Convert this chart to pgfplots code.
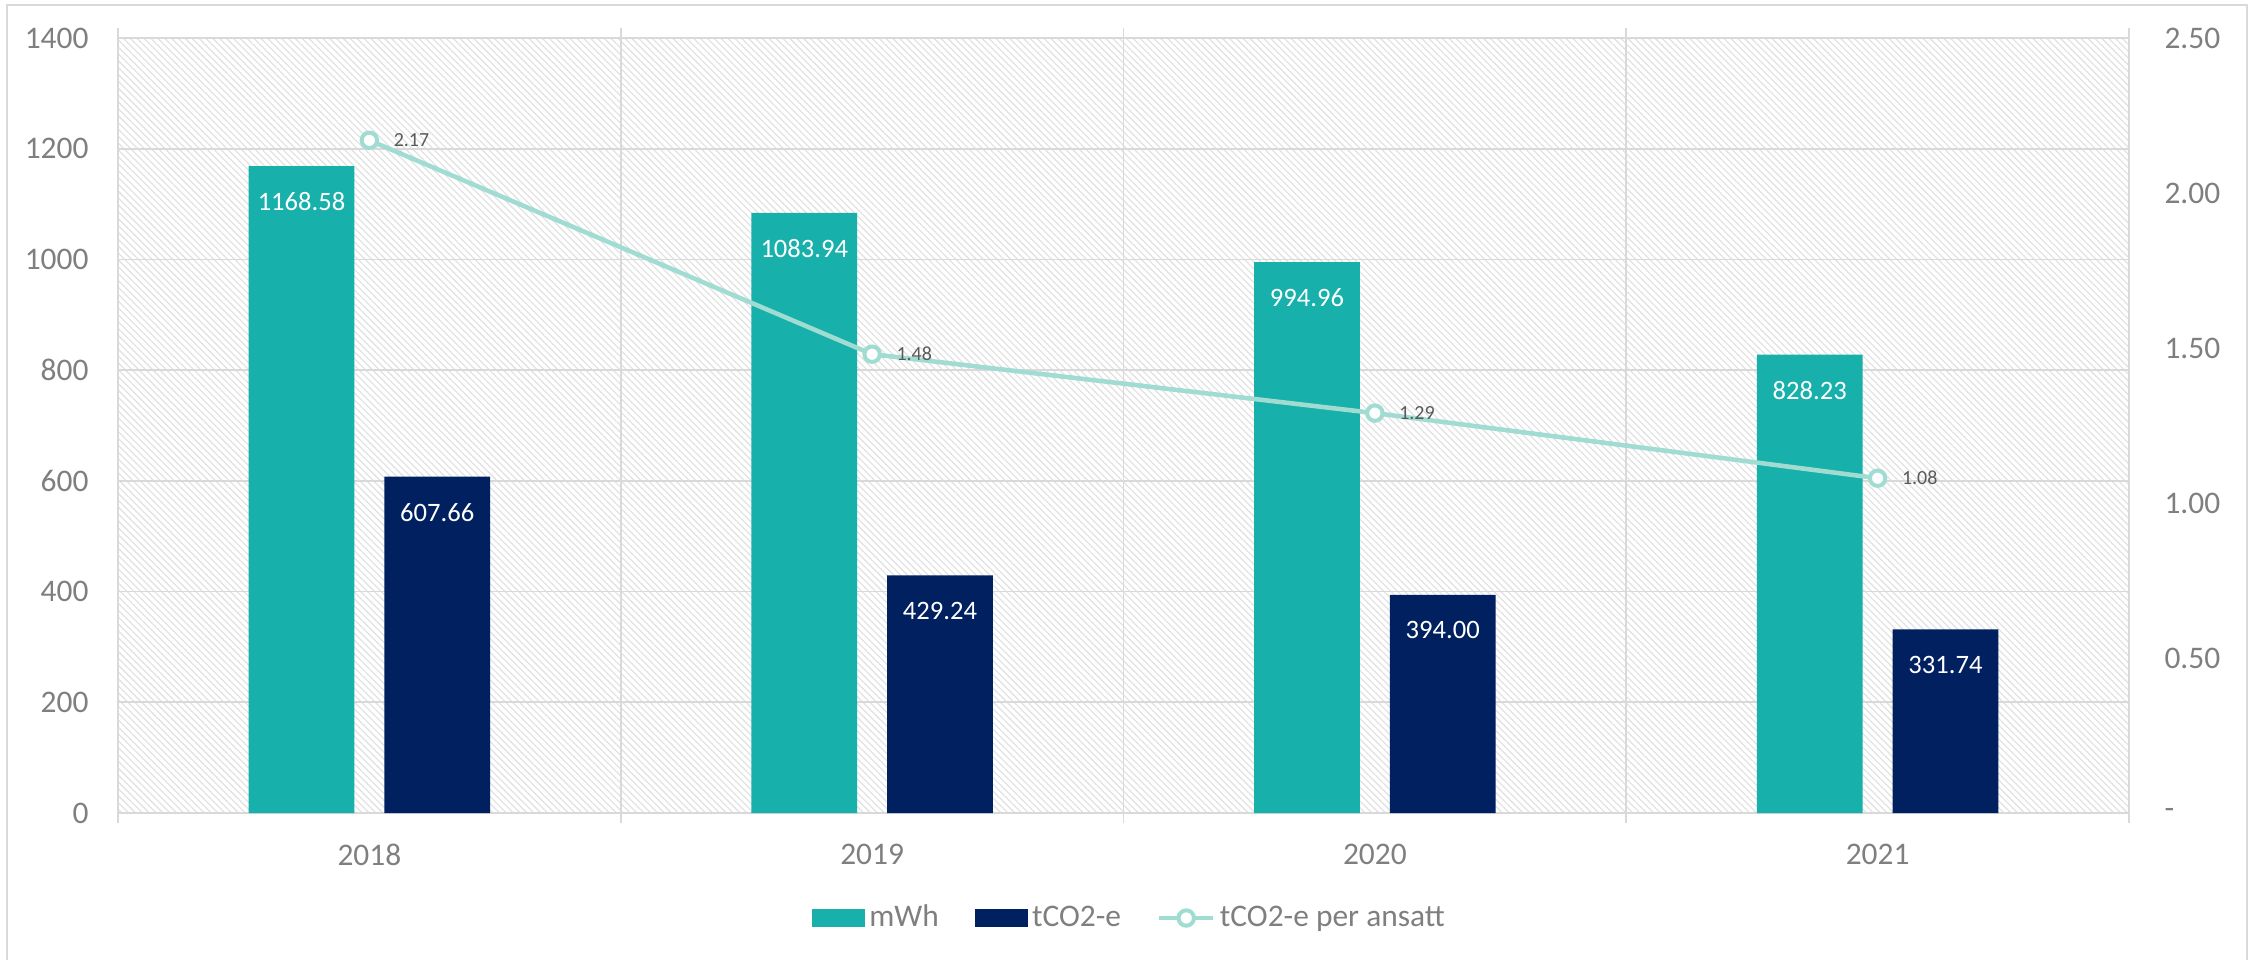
\documentclass[border=0pt]{standalone}
\usepackage{pgfplots}
\pgfplotsset{compat=1.18}
\usepackage{fontspec}
\setmainfont{Carlito}
\usetikzlibrary{patterns.meta}
\definecolor{teal1}{HTML}{17B0AB}
\definecolor{navy1}{HTML}{002060}
\definecolor{line1}{HTML}{A0DCD1}
\definecolor{txt}{HTML}{7F7F7F}
\definecolor{grid1}{HTML}{D9D9D9}
\definecolor{hatch}{HTML}{E2E2E2}
\definecolor{lbl}{HTML}{595959}
\pgfplotsset{mylinelegend/.style={legend image code/.code={\draw[mark repeat=2,mark phase=2,##1] plot coordinates {(0pt,0pt) (9.5pt,0pt) (19pt,0pt)};}}}
\begin{document}
\begin{tikzpicture}
\begin{axis}[
  name=main,
  scale only axis, width=703.85pt, height=271.25pt,
  xmin=-0.5, xmax=3.5, ymin=0, ymax=1400,
  axis line style={grid1, line width=0.6pt},
  axis background/.style={pattern={Lines[angle=-45,distance=1.7pt,line width=0.45pt]}, pattern color=hatch},
  xtick={0,1,2,3}, xticklabels={2018,2019,2020,2021},
  minor xtick={-0.5,0.5,1.5,2.5,3.5},
  xminorgrids=true, ymajorgrids=true,
  major grid style={grid1, line width=0.6pt},
  minor grid style={grid1, line width=0.6pt},
  major tick length=0pt, minor tick length=3.5pt, tick align=outside,
  minor x tick style={grid1, line width=0.6pt},
  ytick={0,200,...,1400},
  /pgf/number format/assume math mode=true,
  /pgf/number format/1000 sep={},
  tick label style={font=\fontsize{11}{13}\selectfont, text=txt},
  yticklabel style={xshift=-6.8pt},
  xticklabel style={yshift=-7.5pt},
]
\addplot[ybar, bar width=0.21, bar shift=-0.135, fill=teal1, draw=none,
  nodes near coords, point meta=explicit symbolic,
  every node near coord/.append style={anchor=north, xshift=-23.75pt, yshift=-5.8pt, text=white, font=\fontsize{9.3}{11}\selectfont}]
  coordinates {(0,1168.58)[1168.58] (1,1083.94)[1083.94] (2,994.96)[994.96] (3,828.23)[828.23]};
\addplot[ybar, bar width=0.21, bar shift=0.135, fill=navy1, draw=none,
  nodes near coords, point meta=explicit symbolic,
  every node near coord/.append style={anchor=north, xshift=23.75pt, yshift=-5.8pt, text=white, font=\fontsize{9.3}{11}\selectfont}]
  coordinates {(0,607.66)[607.66] (1,429.24)[429.24] (2,394.00)[394.00] (3,331.74)[331.74]};
\end{axis}
\begin{axis}[
  scale only axis, width=703.85pt, height=271.25pt,
  xmin=-0.5, xmax=3.5, ymin=0, ymax=2.5,
  hide x axis, axis y line*=right, axis line style={draw=none},
  ytick={0,0.5,1,1.5,2,2.5},
  yticklabels={-,0.50,1.00,1.50,2.00,2.50},
  major tick length=0pt,
  tick label style={font=\fontsize{11}{13}\selectfont, text=txt},
  yticklabel style={xshift=8.9pt},
  legend style={at={(0.5035,-0.1355)}, anchor=center, draw=none, fill=none,
    legend columns=3, font=\fontsize{11}{13}\selectfont, text=txt,
    inner xsep=0pt, inner ysep=0pt,
    nodes={inner xsep=1.5pt},
    /tikz/every even column/.style={column sep=11pt}},
]
\addlegendimage{legend image code/.code={\fill[teal1] (0pt,-3pt) rectangle (18.2pt,3pt);}}
\addlegendentry{mWh}
\addlegendimage{legend image code/.code={\fill[navy1] (0pt,-3pt) rectangle (18.2pt,3pt);}}
\addlegendentry{tCO2-e}
\addplot[line1, line width=1.6pt, mark=*, mark size=2.7pt,
  mark options={fill=white, draw=line1, line width=1.4pt},
  mylinelegend,
  nodes near coords, point meta=explicit symbolic,
  every node near coord/.append style={anchor=west, xshift=4.5pt, yshift=0pt, text=lbl, font=\fontsize{7}{8}\selectfont}]
  coordinates {(0,2.17)[2.17] (1,1.48)[1.48] (2,1.29)[1.29] (3,1.08)[1.08]};
\addlegendentry{tCO2-e per ansatt}
\end{axis}
\draw[grid1, line width=0.6pt] (-38.85pt,-52pt) rectangle (745.15pt,282.8pt);
\pgfresetboundingbox
\path[use as bounding box] (-41.3pt,-51.1pt) rectangle (749.35pt,284.55pt);
\end{tikzpicture}
\end{document}
